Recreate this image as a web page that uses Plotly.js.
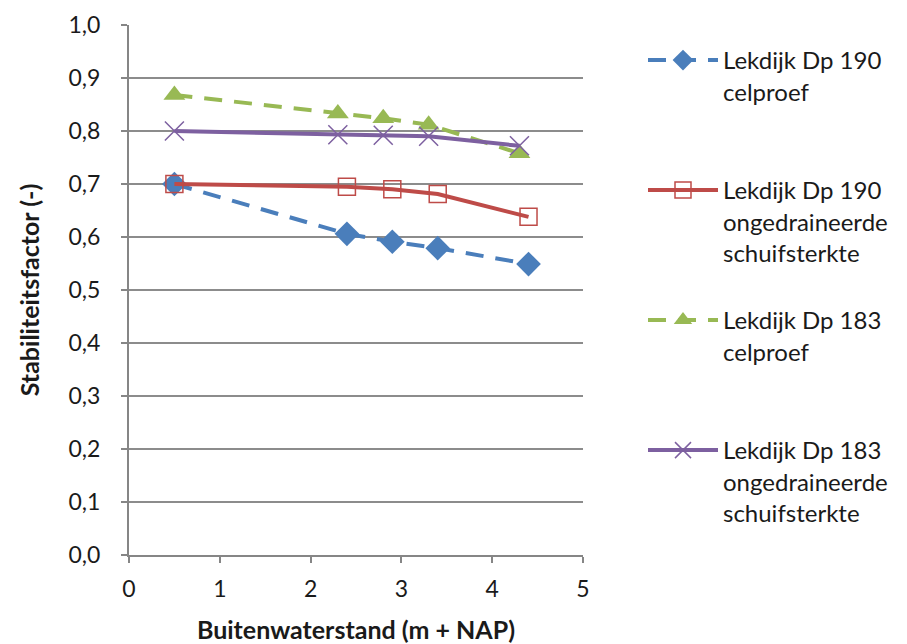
<!DOCTYPE html>
<html><head><meta charset="utf-8">
<script src="https://cdn.plot.ly/plotly-3.0.1.min.js"></script>
<style>html,body{margin:0;padding:0;background:#fff}#chart{width:907px;height:644px}</style>
</head><body><div id="chart"></div>
<script>
const xDp190cel = [0.5, 2.4, 2.9, 3.4, 4.4];
const yDp190cel = [0.70, 0.606, 0.591, 0.579, 0.549];
const xDp190ong = [0.5, 2.4, 2.9, 3.4, 4.4];
const yDp190ong = [0.70, 0.695, 0.690, 0.681, 0.638];
const xDp183cel = [0.5, 2.3, 2.8, 3.3, 4.3];
const yDp183cel = [0.868, 0.833, 0.824, 0.812, 0.758];
const xDp183ong = [0.5, 2.3, 2.8, 3.3, 4.3];
const yDp183ong = [0.80, 0.793, 0.792, 0.790, 0.772];
const names = [
  'Lekdijk Dp 190<br>celproef',
  'Lekdijk Dp 190<br>ongedraineerde<br>schuifsterkte',
  'Lekdijk Dp 183<br>celproef',
  'Lekdijk Dp 183<br>ongedraineerde<br>schuifsterkte'
];
const xTicks = [0, 1, 2, 3, 4, 5];
const yTicks = [0, 0.1, 0.2, 0.3, 0.4, 0.5, 0.6, 0.7, 0.8, 0.9, 1.0];

const FONT = 'Lato, "Open Sans", sans-serif';
const traces = [
  {x: xDp190cel, y: yDp190cel, name: names[0], legend: 'legend', mode: 'lines+markers',
   line: {color: '#4A7EBB', width: 4, dash: '18px,12px'},
   marker: {symbol: 'diamond', size: 19, color: '#4A7EBB'}},
  {x: xDp190ong, y: yDp190ong, name: names[1], legend: 'legend2', mode: 'lines+markers',
   line: {color: '#BE4B48', width: 4},
   marker: {symbol: 'square-open', size: 17, color: '#BE4B48', line: {width: 1.5}}},
  {x: xDp183cel, y: yDp183cel, name: names[2], legend: 'legend3', mode: 'lines+markers',
   line: {color: '#98B954', width: 4, dash: '18px,12px'},
   marker: {symbol: 'triangle-up', size: 19, color: '#98B954'}},
  {x: xDp183ong, y: yDp183ong, name: names[3], legend: 'legend4', mode: 'lines+markers',
   line: {color: '#7D60A0', width: 4},
   marker: {symbol: 'x-thin', size: 19, color: '#7D60A0', line: {width: 1.5, color: '#7D60A0'}}}
];
function leg(ytop) {
  return {xref: 'container', yref: 'container', x: 643/907, y: 1 - ytop/644,
    xanchor: 'left', yanchor: 'top', valign: 'top', itemwidth: 70,
    font: {family: FONT, size: 24, color: '#1a1a1a'}, bgcolor: 'rgba(0,0,0,0)',
    itemclick: false, itemdoubleclick: false};
}
const layout = {
  width: 907, height: 644,
  margin: {l: 129, r: 324, t: 25, b: 89},
  paper_bgcolor: '#fff', plot_bgcolor: '#fff',
  separators: ',.',
  font: {family: FONT, size: 23, color: '#1a1a1a'},
  showlegend: true,
  legend: leg(38), legend2: leg(168), legend3: leg(298), legend4: leg(428),
  xaxis: {range: [0, 5], tickvals: xTicks, tickformat: 'd', showgrid: false, zeroline: false,
    showline: true, linecolor: '#868686', linewidth: 2, ticks: 'outside', ticklen: 6,
    tickcolor: '#868686', tickwidth: 2, ticklabelstandoff: 6,
    tickfont: {family: FONT, size: 23, color: '#1a1a1a'},
    title: {text: '<b>Buitenwaterstand (m + NAP)</b>', font: {family: FONT, size: 25, color: '#1a1a1a'}, standoff: 21}},
  yaxis: {range: [0, 1], tickvals: yTicks, tickformat: '.1f', showgrid: true, gridcolor: '#8c8c8c',
    gridwidth: 2, zeroline: false, showline: true, linecolor: '#868686', linewidth: 2,
    ticks: 'outside', ticklen: 6, tickcolor: '#868686', tickwidth: 2, ticklabelstandoff: 16,
    tickfont: {family: FONT, size: 23, color: '#1a1a1a'},
    title: {text: '<b>Stabiliteitsfactor (-)</b>', font: {family: FONT, size: 25, color: '#1a1a1a'}, standoff: 22}}
};
Plotly.newPlot('chart', traces, layout, {displayModeBar: false, staticPlot: true});
</script></body></html>
